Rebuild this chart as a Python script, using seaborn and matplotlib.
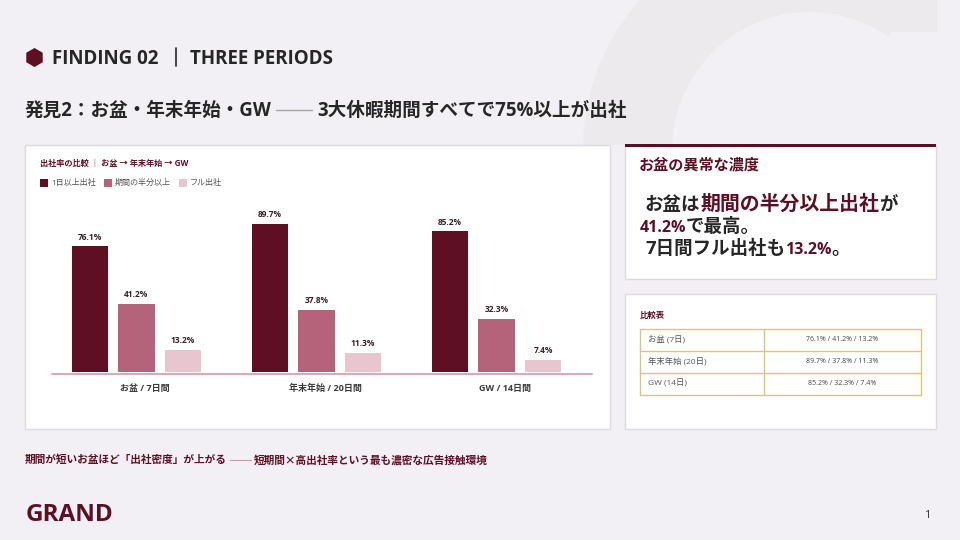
import matplotlib
matplotlib.use("Agg")
import matplotlib.pyplot as plt
from matplotlib.patches import Polygon, Rectangle, RegularPolygon, Wedge
from matplotlib.transforms import ScaledTranslation
import pandas as pd
import seaborn as sns

sns.set_theme(style="white")
FONT = ["Open Sans", "Noto Sans CJK JP", "DejaVu Sans"]
CJK_FIRST = ["Noto Sans CJK JP", "DejaVu Sans"]
plt.rcParams["font.family"] = FONT

periods = ["お盆 / 7日間", "年末年始 / 20日間", "GW / 14日間"]
table_labels = ["お盆 (7日)", "年末年始 (20日)", "GW (14日)"]
measures = ["1日以上出社", "期間の半分以上", "フル出社"]
at_least_one_day = [76.1, 89.7, 85.2]
half_or_more = [41.2, 37.8, 32.3]
full_period = [13.2, 11.3, 7.4]
palette = ["#5f0f24", "#b5637a", "#e8c6cf"]

WINE = "#5f0f24"
INK = "#262626"
W, H = 960, 540

fig = plt.figure(figsize=(9.6, 5.4), dpi=100, facecolor="#f2f0f4")

# Page layer in pixel coordinates, y pointing down
page = fig.add_axes([0, 0, 1, 1], zorder=0)
page.set_xlim(0, W)
page.set_ylim(H, 0)
page.axis("off")

# Faint ring behind the upper right of the page, cut off on its right
ring = Wedge((810, 150), 227, 180, 340, width=89, fc="#edeaed", ec="none")
page.add_patch(ring)
ring.set_clip_path(Polygon([(0, 0), (937, 0), (937, 32), (890, 32), (890, 145), (0, 145)],
                           transform=page.transData))


def card(x, y, w, h):
    page.add_patch(Rectangle((x, y), w, h, fc="white", ec="#dcdadf", lw=1, zorder=1))


card(24.5, 144.5, 585, 284)
card(624.5, 144.5, 311, 134)
card(624.5, 293.5, 311, 135)
page.add_patch(Rectangle((624.5, 144), 311, 3, fc="#5a0f24", ec="none", zorder=2))


def put(x, y, s, size, color=INK, weight="bold", ha="left", family=None):
    return page.text(x, y, s, fontsize=size, color=color, fontweight=weight,
                     ha=ha, va="center", zorder=3, family=family or FONT)


def put_runs(x, y, runs):
    # Lays runs of differing colour and size end to end on one baseline
    renderer = fig.canvas.get_renderer()
    for s, color, size in runs:
        t = page.text(x, y, s, fontsize=size, color=color, fontweight="bold",
                      ha="left", va="baseline", zorder=3, family=FONT)
        x += t.get_window_extent(renderer).width


# Header
page.add_patch(RegularPolygon((34.5, 57.5), 6, radius=9.5, fc=WINE, ec="none", zorder=3))
put(52, 59, "FINDING 02", 13.5)
page.plot([175.5, 175.5], [48, 66], color=INK, lw=1.2, zorder=3)
put(190, 59, "THREE PERIODS", 13.5)

# Headline with its long rule
put(25, 111, "発見2：お盆・年末年始・GW", 13.4)
page.plot([276, 312], [110, 110], color="#a9a3a6", lw=1, zorder=3)
put(317, 111, "3大休暇期間すべてで75%以上が出社", 13.4)

# Chart caption and legend
put(40, 163.5, "出社率の比較 ｜ お盆 → 年末年始 → GW", 5.9, WINE)
legend_x = [(40, 51), (104, 114.5), (179, 190)]
for (sw, tx), name, colour in zip(legend_x, measures, palette):
    page.add_patch(Rectangle((sw, 179), 7.5, 7.5, fc=colour, ec="none", zorder=3))
    put(tx, 183, name, 5.8, "#555555", weight="normal")

# Grouped bars
frame = pd.DataFrame({
    "period": periods * 3,
    "measure": [m for m in measures for _ in periods],
    "value": at_least_one_day + half_or_more + full_period,
})
ax = fig.add_axes([46.5 / W, 1 - 372 / H, 540 / W, 172 / H], zorder=2)
ax.patch.set_alpha(0)
sns.barplot(data=frame, x="period", y="value", hue="measure", hue_order=measures,
            palette=palette, saturation=1, width=0.775, gap=0.225, legend=False,
            ax=ax, edgecolor="none")
ax.set_xlim(-0.5, 2.5)
ax.set_ylim(0, 172 / 1.65)
ax.set_xlabel("")
ax.set_ylabel("")
ax.set_yticks([])
ax.tick_params(axis="x", length=0, pad=13.5, labelsize=6.5, labelcolor="#3a3a3a")
# Group labels sit slightly right of their bar clusters
label_shift = ScaledTranslation(8.5 / 100, 0, fig.dpi_scale_trans)
for label in ax.get_xticklabels():
    label.set_fontweight("bold")
    label.set_va("baseline")
    label.set_transform(label.get_transform() + label_shift)
sns.despine(ax=ax, left=True, bottom=True)
page.plot([52, 592], [374, 374], color="#d9aab8", lw=1.5, zorder=2)
for container in ax.containers:
    ax.bar_label(container, fmt="%.1f%%", padding=3.5, fontsize=6,
                 fontweight="bold", color="#36202a")

# Callout card
put(639, 165, "お盆の異常な濃度", 10.9, WINE)
put_runs(645, 210, [("お盆は", INK, 13.3), ("期間の半分以上出社", WINE, 14.3), ("が", INK, 13.3)])
put_runs(639.5, 231.5, [("41.2%", WINE, 11.5), ("で最高。", INK, 13.3)])
put_runs(645, 254, [("7日間フル出社も", INK, 13.3), ("13.2%", WINE, 11.5), ("。", INK, 13.3)])

# Comparison table
put(640, 315, "比較表", 6, WINE)
row_edges = [328.5, 350.5, 372.5, 394.5]
GOLD = "#d9c777"
for y in row_edges:
    page.plot([639.5, 920.5], [y, y], color=GOLD, lw=1, zorder=3)
for x in (639.5, 763.5, 920.5):
    page.plot([x, x], [row_edges[0], row_edges[-1]], color=GOLD, lw=1, zorder=3)
for i, name in enumerate(table_labels):
    cy = (row_edges[i] + row_edges[i + 1]) / 2
    put(648, cy, name, 6, "#555555", weight="normal")
    summary = f"{at_least_one_day[i]}% / {half_or_more[i]}% / {full_period[i]}%"
    put(842, cy, summary, 5, "#444444", weight="normal", ha="center")

# Footer
put(25, 460, "期間が短いお盆ほど「出社密度」が上がる", 7.7, WINE, family=CJK_FIRST)
page.plot([230, 251], [459.5, 459.5], color="#c79aa7", lw=0.8, zorder=3)
put(253.5, 460, "短期間×高出社率という最も濃密な広告接触環境", 7.7, WINE, family=CJK_FIRST)
put(26, 515, "GRAND", 17.5, WINE)
put(927, 515.5, "1", 8, "#333333", weight="normal", ha="center")

fig.savefig("out.png", dpi=100, facecolor=fig.get_facecolor())
